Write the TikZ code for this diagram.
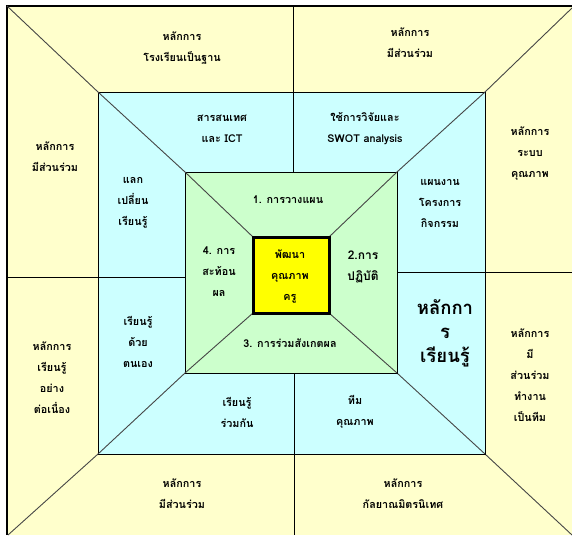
\documentclass[tikz,border=0pt]{standalone}
\usepackage{fontspec}
\newfontfamily\thai[Script=Thai]{Loma}
\definecolor{paleY}{RGB}{255,255,204}
\definecolor{paleB}{RGB}{204,255,255}
\definecolor{paleG}{RGB}{204,255,204}
\definecolor{coreY}{RGB}{255,255,0}
\definecolor{diag}{RGB}{70,70,70}
\begin{document}
\begin{tikzpicture}[x=1pt,y=-1pt,
  lbl/.style={align=center,font=\thai\bfseries\fontsize{10.8}{21}\selectfont,text=black,inner sep=0pt},
  biglbl/.style={align=center,font=\thai\bfseries\fontsize{18.5}{24}\selectfont,text=black,inner sep=0pt},
  diagline/.style={draw=diag,line width=0.9pt},
  divline/.style={draw=black,line width=0.8pt},
  boxline/.style={draw=black,line width=0.8pt}]
\useasboundingbox (0,0) rectangle (572,535);
% outer area
\fill[paleY] (7,6) rectangle (572,535);
\draw[line width=1.8pt] (7,535) -- (7,6) -- (572,6);
% coordinates
\coordinate (o1) at (7,6);
\coordinate (o2) at (572,8);
\coordinate (o3) at (572,535);
\coordinate (o4) at (8,535);
\coordinate (b1) at (98,92);
\coordinate (b2) at (485,92);
\coordinate (b3) at (485,454);
\coordinate (b4) at (98,454);
\coordinate (g1) at (185,172);
\coordinate (g2) at (397,172);
\coordinate (g3) at (397,373);
\coordinate (g4) at (185,373);
\coordinate (c1) at (253,237);
\coordinate (c2) at (329,237);
\coordinate (c3) at (329,313);
\coordinate (c4) at (253,313);
% dividers in outer ring
\draw[divline] (293,6) -- (293,92);
\draw[divline] (294,454) -- (294,535);
\draw[divline] (7,277) -- (98,277);
\draw[divline] (485,272) -- (572,272);
% outer diagonals
\draw[diagline] (o1) -- (b1);
\draw[diagline] (o2) -- (b2);
\draw[diagline] (o3) -- (b3);
\draw[diagline] (o4) -- (b4);
% blue ring
\filldraw[fill=paleB,boxline] (b1) rectangle (b3);
\draw[divline] (293,92) -- (293,172);
\draw[divline] (294,373) -- (294,454);
\draw[divline] (98,277) -- (185,277);
\draw[divline] (397,272) -- (485,272);
\draw[diagline] (b1) -- (g1);
\draw[diagline] (b2) -- (g2);
\draw[diagline] (b3) -- (g3);
\draw[diagline] (b4) -- (g4);
% green ring
\filldraw[fill=paleG,boxline] (g1) rectangle (g3);
\draw[diagline] (g1) -- (c1);
\draw[diagline] (g2) -- (c2);
\draw[diagline] (g3) -- (c3);
\draw[diagline] (g4) -- (c4);
% core
\filldraw[fill=coreY,draw=black,line width=3pt] (c1) rectangle (c3);
% outer texts
\node[lbl] (t1) at (182,48) {หลักการ\\โรงเรียนเป็นฐาน};
\node[lbl] (t2) at (410,43) {หลักการ\\มีส่วนร่วม};
\node[lbl] (t3) at (55,157) {หลักการ\\มีส่วนร่วม};
\node[lbl] (t4) at (530,154) {หลักการ\\ระบบ\\คุณภาพ};
\node[lbl] (t5) at (52,378) {หลักการ\\เรียนรู้\\อย่าง\\ต่อเนื่อง};
\node[lbl] (t6) at (530,375) {หลักการ\\มี\\ส่วนร่วม\\ทำงาน\\เป็นทีม};
\node[lbl] (t7) at (182,494) {หลักการ\\มีส่วนร่วม};
\node[lbl] (t8) at (403,494) {หลักการ\\กัลยาณมิตรนิเทศ};
% blue texts
\node[lbl] (s1) at (222,129) {สารสนเทศ\\และ ICT};
\node[lbl] (s2) at (365,129) {ใช้การวิจัยและ\\SWOT analysis};
\node[lbl] (s3) at (133,203) {แลก\\เปลี่ยน\\เรียนรู้};
\node[lbl] (s4) at (440,203) {แผนงาน\\โครงการ\\กิจกรรม};
\node[lbl] (s5) at (138,342) {เรียนรู้\\ด้วย\\ตนเอง};
\node[biglbl] (s6) at (445,333) {หลักกา\\ร\\เรียนรู้};
\node[lbl] (s7) at (237,412) {เรียนรู้\\ร่วมกัน};
\node[lbl] (s8) at (355,412) {ทีม\\คุณภาพ};
% green texts
\node[lbl] (p1) at (288,200) {1. การวางแผน};
\node[lbl,font=\thai\bfseries\fontsize{12}{21}\selectfont] (p2) at (363,267) {2.การ\\ปฏิบัติ};
\node[lbl] (p3) at (290,343) {3. การร่วมสังเกตผล};
\node[lbl] (p4) at (219,272) {4. การ\\สะท้อน\\ผล};
% core text
\node[lbl] (core) at (290,276) {พัฒนา\\คุณภาพ\\ครู};
\end{tikzpicture}
\end{document}
